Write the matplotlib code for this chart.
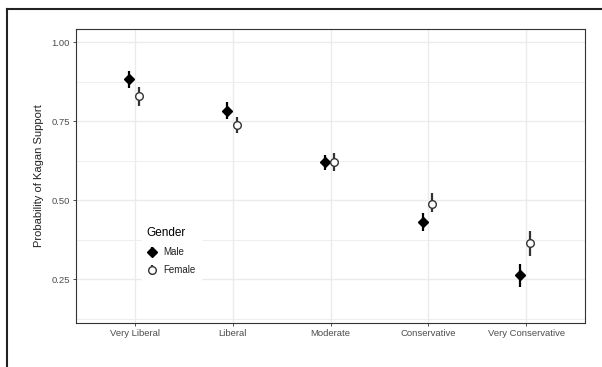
import matplotlib
matplotlib.use("Agg")
import matplotlib.pyplot as plt
from matplotlib.lines import Line2D
import numpy as np

plt.rcParams['font.family'] = ['Liberation Sans', 'DejaVu Sans']

ideology = ["Very Liberal", "Liberal", "Moderate", "Conservative", "Very Conservative"]

male_prob = [0.884, 0.784, 0.620, 0.432, 0.264]
male_lo = [0.854, 0.757, 0.596, 0.403, 0.225]
male_hi = [0.909, 0.810, 0.643, 0.461, 0.298]

female_prob = [0.829, 0.738, 0.620, 0.490, 0.366]
female_lo = [0.800, 0.712, 0.593, 0.464, 0.324]
female_hi = [0.858, 0.765, 0.650, 0.524, 0.403]

y_ticks = [0.25, 0.50, 0.75, 1.00]
y_tick_labels = ["0.25", "0.50", "0.75", "1.00"]

W, H = 602, 367
fig = plt.figure(figsize=(W / 100, H / 100), dpi=100)
ax = fig.add_axes([76 / W, 1 - 323 / H, (585 - 76) / W, (323 - 29) / H])

x = np.arange(1, len(ideology) + 1)
dodge_m, dodge_f = -0.06, 0.04

# grid (theme_bw style)
ax.set_facecolor("white")
ax.set_axisbelow(True)
for v in [0.125, 0.375, 0.625, 0.875]:
    ax.axhline(v, color="#ebebeb", lw=0.6, zorder=0)
for v in y_ticks:
    ax.axhline(v, color="#ebebeb", lw=1.0, zorder=0)
for v in x:
    ax.axvline(v, color="#ebebeb", lw=1.0, zorder=0)

def draw(xs, p, lo, hi, marker, face, edge, ms, label):
    p = np.array(p)
    err = np.vstack([p - np.array(lo), np.array(hi) - p])
    return ax.errorbar(xs, p, yerr=err, fmt=marker, ms=ms, mfc=face, mec=edge,
                       mew=1.0, ecolor=edge, elinewidth=1.6, capsize=0,
                       label=label, zorder=3)

h_m = draw(x + dodge_m, male_prob, male_lo, male_hi, "D", "black", "black", 5.2, "Male")
h_f = draw(x + dodge_f, female_prob, female_lo, female_hi, "o", "white", "#333333", 5.5, "Female")

ax.set_xlim(0.4, 5.6)
ax.set_ylim(0.112, 1.042)
ax.set_xticks(x)
ax.set_xticklabels(ideology)
ax.set_yticks(y_ticks)
ax.set_yticklabels(y_tick_labels)
ax.tick_params(axis="both", labelsize=6.8, labelcolor="#4d4d4d", color="#333333",
               length=2.5, width=0.6, pad=2)
for s in ax.spines.values():
    s.set_color("#333333")
    s.set_linewidth(0.8)

ax.set_ylabel("Probability of Kagan Support", fontsize=8, color="#222222", labelpad=5)

leg = ax.legend(handles=[h_m, h_f], title="Gender", loc="upper left",
                bbox_to_anchor=((142 - 76) / (585 - 76), 1 - (222 - 29) / (323 - 29)),
                frameon=True, fontsize=7, title_fontsize=8.5, handlelength=1.0,
                handletextpad=0.7, labelspacing=0.85, borderpad=0.5, borderaxespad=0)
leg.get_frame().set_edgecolor("white")
leg.get_frame().set_facecolor("white")
leg.get_frame().set_alpha(1)
leg.get_frame().set_boxstyle("square", pad=0)
leg._legend_box.align = "left"
leg.set_zorder(5)
for t in leg.get_texts():
    t.set_color("#222222")

# outer frame lines
fig.add_artist(Line2D([7 / W, 7 / W], [0, 1 - 9 / H], color="#222222", lw=1.5))
fig.add_artist(Line2D([7 / W, 1], [1 - 9 / H, 1 - 9 / H], color="#222222", lw=1.5))

fig.savefig("out.png", dpi=100)
